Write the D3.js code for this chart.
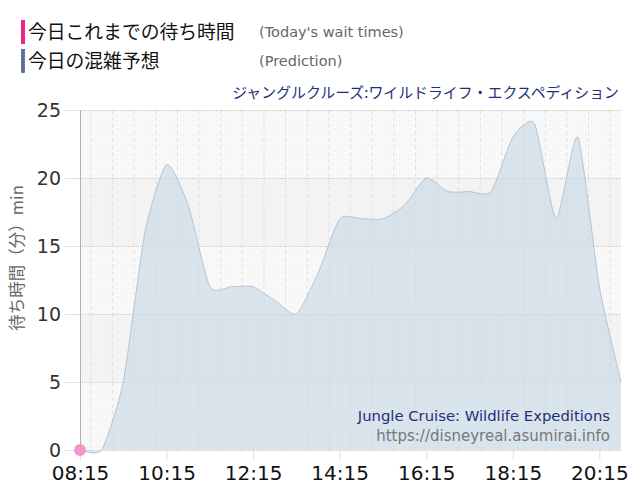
<!DOCTYPE html>
<html><head><meta charset="utf-8">
<script src="https://cdn.jsdelivr.net/npm/d3@7"></script>
<style>body{margin:0;background:#fff}svg{display:block}</style>
</head><body>
<svg id="c" width="640" height="500"></svg>
<script>
const predTimes = ["08:15","08:45","09:15","09:45","10:15","10:45","11:15","11:45","12:15","12:45","13:15","13:45","14:15","14:45","15:15","15:45","16:15","16:45","17:15","17:45","18:15","18:45","19:15","19:45","20:15","20:45"];
const predValues = [0,0,5,16,21,18,12,12,12,11,10,13,17,17,17,18,20,19,19,19,23,24,17,23,12,5];
const todayTimes = ["08:15"];
const todayValues = [0];
const xTickLabels = ["08:15","10:15","12:15","14:15","16:15","18:15","20:15"];
const yTicks = [0,5,10,15,20,25];
const legendJa = ["今日これまでの待ち時間","今日の混雑予想"];
const legendEn = ["(Today's wait times)","(Prediction)"];
const title = "ジャングルクルーズ:ワイルドライフ・エクスペディション";
const creditName = "Jungle Cruise: Wildlife Expeditions";
const creditUrl = "https://disneyreal.asumirai.info";
const yTitle = "待ち時間（分）min";

const parse = d3.timeParse("%H:%M");
const svg = d3.select("#c");
const m = {l:80, r:621, t:110, b:450};
const x = d3.scaleTime().domain([parse("08:15"), parse("20:45")]).range([m.l, m.r]);
const y = d3.scaleLinear().domain([0,25]).range([m.b, m.t]);

const defs = svg.append("defs");
const pat = defs.append("pattern").attr("id","dots").attr("width",3).attr("height",3).attr("patternUnits","userSpaceOnUse");
pat.append("rect").attr("width",3).attr("height",3).attr("fill","#f9f9f9");
pat.append("rect").attr("width",1).attr("height",1).attr("fill","#efefef");
const pat2 = defs.append("pattern").attr("id","dots2").attr("width",3).attr("height",3).attr("patternUnits","userSpaceOnUse");
pat2.append("rect").attr("width",3).attr("height",3).attr("fill","#5f6b9f");
pat2.append("rect").attr("width",1).attr("height",1).attr("fill","#8a94c0");

// bands
for (let i=0;i<yTicks.length-1;i++){
  svg.append("rect").attr("x",m.l).attr("width",m.r-m.l)
    .attr("y",y(yTicks[i+1])).attr("height",y(yTicks[i])-y(yTicks[i+1]))
    .attr("fill", i%2===0 ? "url(#dots)" : "#f3f3f3");
}
// vertical minor grid every 30 min
const fmt = d3.timeFormat("%H:%M");
const minor = d3.timeMinute.every(30).range(parse("08:15"), d3.timeMinute.offset(parse("20:45"),1));
svg.append("g").selectAll("line").data(minor).join("line")
  .attr("x1",d=>x(d)).attr("x2",d=>x(d)).attr("y1",m.t).attr("y2",m.b)
  .attr("stroke",d=>xTickLabels.includes(fmt(d))?"#d4d4d4":"#e0e0e0")
  .attr("stroke-dasharray",d=>xTickLabels.includes(fmt(d))?"1,1":"4,3")
  .attr("stroke-width",1);
// horizontal grid
svg.append("g").selectAll("line").data(yTicks).join("line")
  .attr("x1",m.l).attr("x2",m.r).attr("y1",d=>y(d)+0.5).attr("y2",d=>y(d)+0.5)
  .attr("stroke","#c8c8c8").attr("stroke-dasharray","1,1");

// area
const pts = predTimes.map((t,i)=>({t:parse(t), v:predValues[i]}));
const curve = d3.curveCardinal.tension(0.4);
const area = d3.area().x(d=>x(d.t)).y0(y(0)).y1(d=>y(d.v)).curve(curve);
const line = d3.line().x(d=>x(d.t)).y(d=>y(d.v)).curve(curve);
svg.append("path").datum(pts).attr("d",area).attr("fill","#c9d8e6").attr("fill-opacity",0.65);
svg.append("path").datum(pts).attr("d",line).attr("fill","none").attr("stroke","#b3c5d5").attr("stroke-width",1);

// axes
svg.append("line").attr("x1",m.l+0.5).attr("x2",m.l+0.5).attr("y1",m.t).attr("y2",m.b).attr("stroke","#b0b0b8");
const yAxis = svg.append("g").attr("transform",`translate(${m.l},0)`)
  .call(d3.axisLeft(y).tickValues(yTicks).tickSize(15).tickPadding(4));
yAxis.select(".domain").remove();
yAxis.selectAll(".tick line").attr("stroke","#e0e0e0");
yAxis.selectAll("text").attr("font-family","DejaVu Sans, sans-serif").attr("font-size",19).attr("fill","#333").attr("dy","0.36em");

const xAxis = svg.append("g").attr("transform",`translate(0,${m.b})`)
  .call(d3.axisBottom(x).tickValues(xTickLabels.map(parse)).tickFormat(fmt).tickSize(10).tickPadding(6));
xAxis.select(".domain").remove();
xAxis.selectAll(".tick line").attr("stroke","#e0e0e0");
xAxis.selectAll("text").attr("font-family","DejaVu Sans, sans-serif").attr("font-size",20).attr("fill","#111");

// today's point
const today = todayTimes.map((t,i)=>({t:parse(t), v:todayValues[i]}));
svg.append("g").selectAll("circle").data(today).join("circle")
  .attr("cx",d=>x(d.t)).attr("cy",d=>y(d.v)).attr("r",6).attr("fill","#f48cc8").attr("fill-opacity",0.9);

// y title
svg.append("text").attr("transform","translate(23,258) rotate(-90)").attr("text-anchor","middle")
  .attr("font-family","Noto Sans CJK JP, sans-serif").attr("font-size",16.5).attr("fill","#666").text(yTitle);

// legend
const legColors = ["#f0218c","url(#dots2)"];
legendJa.forEach((t,i)=>{
  const yy = 20 + i*29;
  svg.append("rect").attr("x",21).attr("y",yy).attr("width",4).attr("height",24).attr("fill",legColors[i]);
  svg.append("text").attr("x",28).attr("y",yy+19).attr("font-family","Noto Sans CJK JP, sans-serif").attr("font-size",18.8).attr("fill","#111").text(t);
  svg.append("text").attr("x",259).attr("y",yy+17).attr("font-family","DejaVu Sans, sans-serif").attr("font-size",14.5).attr("fill","#666").text(legendEn[i]);
});
svg.append("text").attr("x",619).attr("y",98).attr("text-anchor","end").attr("font-family","Noto Sans CJK JP, sans-serif").attr("font-size",14.9).attr("fill","#22307a").text(title);
svg.append("text").attr("x",610).attr("y",421).attr("text-anchor","end").attr("font-family","DejaVu Sans, sans-serif").attr("font-size",14.8).attr("fill","#22307a").text(creditName);
svg.append("text").attr("x",610).attr("y",441).attr("text-anchor","end").attr("font-family","DejaVu Sans, sans-serif").attr("font-size",15).attr("fill","#777").text(creditUrl);
</script>
</body></html>
